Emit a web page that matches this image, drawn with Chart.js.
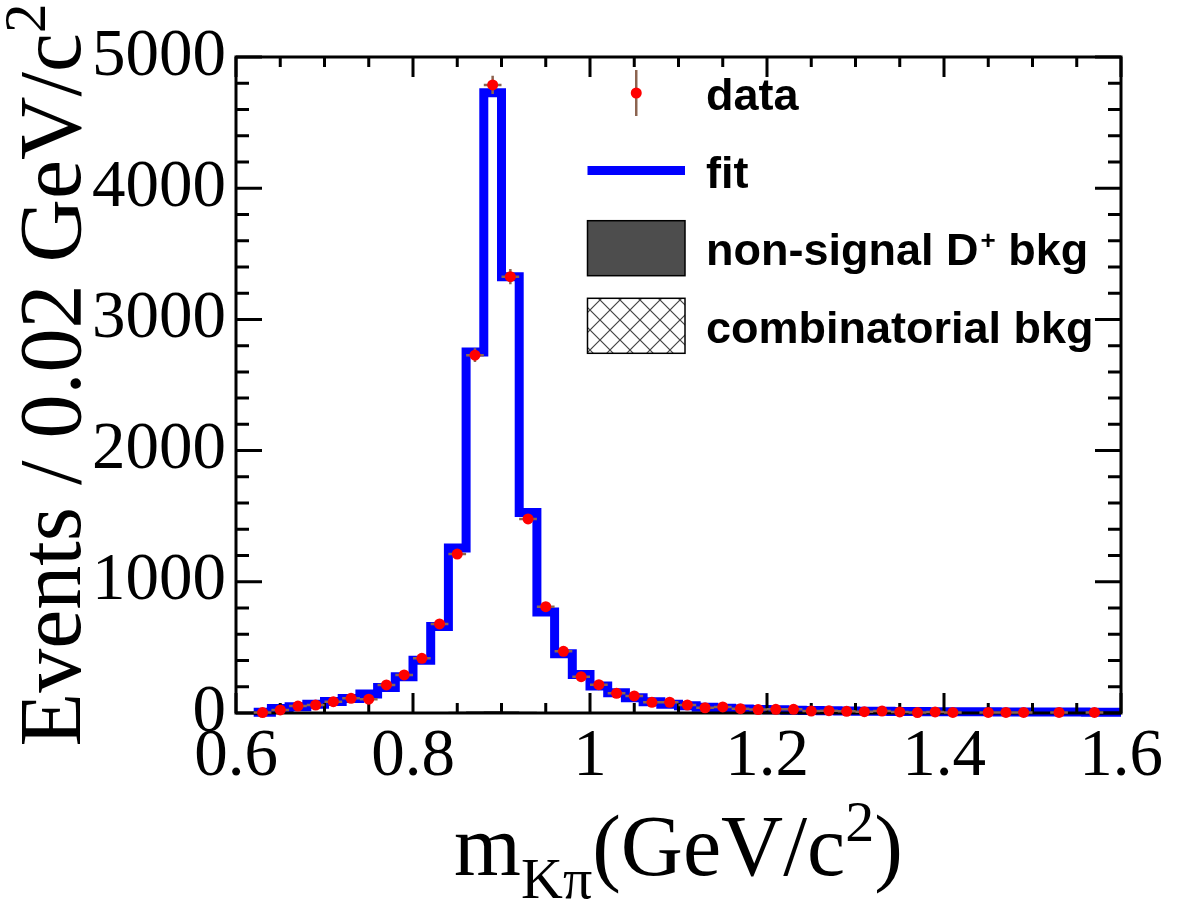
<!DOCTYPE html>
<html>
<head>
<meta charset="utf-8">
<script src="https://cdn.jsdelivr.net/npm/chart.js@4.4.1/dist/chart.umd.min.js"></script>
<style>
  html, body { margin: 0; padding: 0; background: #fff; }
</style>
</head>
<body>
<canvas id="chart" width="1182" height="915"></canvas>
<script>
// m(K pi) bins, 0.02 GeV/c^2 wide (centres)
const BIN = 0.02;
const binCenters = [0.63, 0.65, 0.67, 0.69, 0.71, 0.73, 0.75, 0.77, 0.79, 0.81,
    0.83, 0.85, 0.87, 0.89, 0.91, 0.93, 0.95, 0.97, 0.99, 1.01,
    1.03, 1.05, 1.07, 1.09, 1.11, 1.13, 1.15, 1.17, 1.19, 1.21,
    1.23, 1.25, 1.27, 1.29, 1.31, 1.33, 1.35, 1.37, 1.39, 1.41,
    1.43, 1.45, 1.47, 1.49, 1.51, 1.53, 1.55, 1.57, 1.59];

const dataCounts = [3, 23, 53, 61, 86, 112, 105, 214, 290, 417,
    679, 1211, 2727, 4787, 3326, 1479, 810, 470, 277, 216,
    150, 130, 81, 82, 61, 40, 46, 33, 26, 28,
    28, 15, 18, 13, 10, 15, 8, 3, 8, 4,
    null, 4, 4, 4, null, 4, null, 4, null];

const fitCounts = [5, 34, 47, 67, 88, 111, 144, 195, 276, 403,
    660, 1258, 2752, 4727, 3325, 1528, 770, 452, 294, 205,
    155, 116, 86, 67, 55, 44, 37, 31, 27, 24,
    21, 19, 17, 15, 14, 13, 12, 11, 10, 10,
    9, 9, 8, 8, 7, 7, 7, 6, 6];

const nonSignalBkg = [0, 0, 1, 1, 1, 1, 2, 2, 3, 4,
    6, 9, 14, 16, 14, 10, 6, 4, 3, 2,
    2, 2, 1, 1, 1, 1, 1, 1, 1, 1,
    1, 1, 1, 1, 1, 0, 0, 0, 0, 0,
    0, 0, 0, 0, 0, 0, 0, 0, 0];

const combBkg = [0, 0, 0, 0, 0, 0, 0, 0, 0, 0,
    0, 0, 0, 0, 0, 0, 0, 0, 0, 0,
    0, 0, 0, 0, 0, 0, 0, 0, 0, 0,
    0, 0, 0, 0, 0, 0, 0, 0, 0, 0,
    0, 0, 0, 0, 0, 0, 0, 0, 0];

const xTickValues = [0.6, 0.8, 1.0, 1.2, 1.4, 1.6];
const yTickValues = [0, 1000, 2000, 3000, 4000, 5000];

const SERIF = '"Liberation Serif", "Times New Roman", serif';
const SANS = '"Liberation Sans", Arial, sans-serif';
const ERR_COLOR = '#8c6450';

// histogram as step points on bin edges
function steps(values) {
    const pts = binCenters.map((c, i) => ({ x: c - BIN / 2, y: values[i] }));
    const last = binCenters.length - 1;
    pts.push({ x: binCenters[last] + BIN / 2, y: values[last] });
    return pts;
}

function makeHatch() {
    const c = document.createElement('canvas');
    c.width = 20;
    c.height = 20;
    const g = c.getContext('2d');
    g.fillStyle = '#fff';
    g.fillRect(0, 0, 20, 20);
    g.strokeStyle = '#444';
    g.lineWidth = 1.2;
    g.beginPath();
    g.moveTo(0, 0); g.lineTo(20, 20);
    g.moveTo(20, 0); g.lineTo(0, 20);
    g.stroke();
    return document.getElementById('chart').getContext('2d').createPattern(c, 'repeat');
}
const hatch = makeHatch();

// frame with inward ticks on all four sides
function drawFrame(chart) {
    const { ctx, chartArea: a, scales: { x, y } } = chart;
    ctx.save();
    ctx.strokeStyle = '#000';
    ctx.lineWidth = 3;
    ctx.strokeRect(a.left, a.top, a.right - a.left, a.bottom - a.top);
    ctx.beginPath();
    for (let i = 0; i <= 20; i++) {
        const px = x.getPixelForValue(0.6 + i * 0.05);
        const len = i % 4 === 0 ? 20 : 10;
        ctx.moveTo(px, a.bottom); ctx.lineTo(px, a.bottom - len);
        ctx.moveTo(px, a.top); ctx.lineTo(px, a.top + len);
    }
    for (let i = 0; i <= 25; i++) {
        const py = y.getPixelForValue(i * 200);
        const len = i % 5 === 0 ? 26 : 13;
        ctx.moveTo(a.left, py); ctx.lineTo(a.left + len, py);
        ctx.moveTo(a.right, py); ctx.lineTo(a.right - len, py);
    }
    ctx.stroke();
    ctx.restore();
}

const framePlugin = {
    id: 'frame',
    afterDatasetDraw(chart, args) {
        if (args.index === 1) drawFrame(chart);
    },
    beforeDatasetDraw(chart, args) {
        if (args.index !== 0) return;
        const { ctx, scales: { x, y } } = chart;
        ctx.save();
        ctx.strokeStyle = ERR_COLOR;
        ctx.lineWidth = 2.5;
        ctx.beginPath();
        binCenters.forEach((c, i) => {
            const v = dataCounts[i];
            if (v == null) return;
            const e = Math.sqrt(v);
            const px = x.getPixelForValue(c);
            const py = y.getPixelForValue(v);
            ctx.moveTo(px, y.getPixelForValue(v + e));
            ctx.lineTo(px, y.getPixelForValue(Math.max(v - e, 0)));
            ctx.moveTo(x.getPixelForValue(c - BIN / 2), py);
            ctx.lineTo(x.getPixelForValue(c + BIN / 2), py);
        });
        ctx.stroke();
        ctx.restore();
    }
};

// axis titles and legend
const textPlugin = {
    id: 'texts',
    afterDraw(chart) {
        const { ctx, chartArea: a } = chart;
        ctx.save();
        ctx.fillStyle = '#000';
        ctx.textBaseline = 'alphabetic';
        ctx.textAlign = 'left';

        // y title
        const yBig = '88px ' + SERIF, ySmall = '59px ' + SERIF;
        ctx.font = yBig;
        const yMain = 'Events / 0.02 GeV/c';
        const wMain = ctx.measureText(yMain).width;
        ctx.font = ySmall;
        const wSup = ctx.measureText('2').width;
        const yStart = 375 + (wMain + wSup) / 2;
        ctx.save();
        ctx.translate(80, yStart);
        ctx.rotate(-Math.PI / 2);
        ctx.font = yBig;
        ctx.fillText(yMain, 0, 0);
        ctx.font = ySmall;
        ctx.fillText('2', wMain, -35);
        ctx.restore();

        // x title: m_{K pi}(GeV/c^2)
        const big = '86px ' + SERIF, small = '58px ' + SERIF;
        const parts = [
            { t: 'm', f: big, dy: 0 },
            { t: 'K\u03c0', f: small, dy: 23 },
            { t: '(GeV/c', f: big, dy: 0 },
            { t: '2', f: small, dy: -34 },
            { t: ')', f: big, dy: 0 }
        ];
        let total = 0;
        parts.forEach(p => { ctx.font = p.f; p.w = ctx.measureText(p.t).width; total += p.w; });
        let cx = (a.left + a.right) / 2 - total / 2;
        parts.forEach(p => {
            ctx.font = p.f;
            ctx.fillText(p.t, cx, 875 + p.dy);
            cx += p.w;
        });

        // legend
        const symX = 587.5, symW = 97.5, textX = 706;
        const rows = [93, 170.6, 248.2, 325.8];
        const lfont = 'bold 45px ' + SANS;
        const labels = chart.data.datasets.map(d => d.label);

        // data
        ctx.strokeStyle = ERR_COLOR;
        ctx.lineWidth = 2.5;
        ctx.beginPath();
        ctx.moveTo(symX + symW / 2, rows[0] - 23);
        ctx.lineTo(symX + symW / 2, rows[0] + 23);
        ctx.stroke();
        ctx.fillStyle = '#ff0000';
        ctx.beginPath();
        ctx.arc(symX + symW / 2, rows[0], 5.5, 0, Math.PI * 2);
        ctx.fill();

        // fit
        ctx.strokeStyle = '#0000ff';
        ctx.lineWidth = 9;
        ctx.beginPath();
        ctx.moveTo(symX, rows[1]);
        ctx.lineTo(symX + symW, rows[1]);
        ctx.stroke();

        // boxes
        ctx.lineWidth = 1.5;
        ctx.strokeStyle = '#000';
        ctx.fillStyle = '#4d4d4d';
        ctx.fillRect(symX, rows[2] - 27.5, symW, 55);
        ctx.strokeRect(symX, rows[2] - 27.5, symW, 55);
        ctx.fillStyle = hatch;
        ctx.fillRect(symX, rows[3] - 27.5, symW, 55);
        ctx.strokeRect(symX, rows[3] - 27.5, symW, 55);

        ctx.fillStyle = '#000';
        ctx.font = lfont;
        ctx.fillText(labels[0], textX, rows[0] + 17);
        ctx.fillText(labels[1], textX, rows[1] + 17);
        // "non-signal D+ bkg" with superscript +
        const [pre, post] = labels[2].split('+');
        ctx.fillText(pre, textX, rows[2] + 17);
        let lx = textX + ctx.measureText(pre).width + 2;
        ctx.font = 'bold 26px ' + SANS;
        ctx.fillText('+', lx, rows[2] + 17 - 16);
        lx += ctx.measureText('+').width;
        ctx.font = lfont;
        ctx.fillText(post, lx, rows[2] + 17);
        ctx.fillText(labels[3], textX, rows[3] + 17);
        ctx.restore();
    }
};

const chart = new Chart(document.getElementById('chart'), {
    type: 'line',
    data: {
        datasets: [
            {
                label: 'data',
                data: binCenters.map((c, i) => ({ x: c, y: dataCounts[i] })),
                showLine: false,
                pointRadius: 5.5,
                pointHoverRadius: 5.5,
                pointBackgroundColor: '#ff0000',
                pointBorderWidth: 0,
                clip: false,
                order: 0,
            },
            {
                label: 'fit',
                data: steps(fitCounts),
                stepped: true,
                borderColor: '#0000ff',
                borderWidth: 9,
                pointRadius: 0,
                fill: false,
                clip: false,
                order: 1,
            },
            {
                label: 'non-signal D+ bkg',
                data: steps(nonSignalBkg),
                stepped: true,
                borderWidth: 0,
                borderColor: 'rgba(0,0,0,0)',
                backgroundColor: '#4d4d4d',
                fill: 'origin',
                pointRadius: 0,
                order: 2,
            },
            {
                label: 'combinatorial bkg',
                data: steps(combBkg),
                stepped: true,
                borderWidth: 1,
                borderColor: '#333',
                backgroundColor: hatch,
                fill: 'origin',
                pointRadius: 0,
                order: 3,
            },
        ],
    },
    options: {
        responsive: false,
        animation: false,
        devicePixelRatio: 1,
        layout: { padding: { left: 0, top: 57, right: 61, bottom: 0 } },
        plugins: {
            legend: { display: false },
            tooltip: { enabled: false },
        },
        scales: {
            x: {
                type: 'linear',
                min: 0.6,
                max: 1.6,
                afterBuildTicks: s => { s.ticks = xTickValues.map(v => ({ value: v })); },
                afterFit: s => { s.height = 202; },
                grid: { display: false },
                border: { display: false },
                ticks: {
                    autoSkip: false,
                    maxRotation: 0,
                    padding: 3,
                    color: '#000',
                    font: { family: SERIF, size: 67, lineHeight: 1.0 },
                    callback: v => String(Math.round(v * 10) / 10),
                },
            },
            y: {
                type: 'linear',
                min: 0,
                max: 5000,
                afterBuildTicks: s => { s.ticks = yTickValues.map(v => ({ value: v })); },
                afterFit: s => { s.width = 236; },
                grid: { display: false },
                border: { display: false },
                ticks: {
                    padding: 2,
                    color: '#000',
                    font: { family: SERIF, size: 67 },
                    callback: v => String(v),
                },
            },
        },
    },
    plugins: [framePlugin, textPlugin],
});
</script>
</body>
</html>
